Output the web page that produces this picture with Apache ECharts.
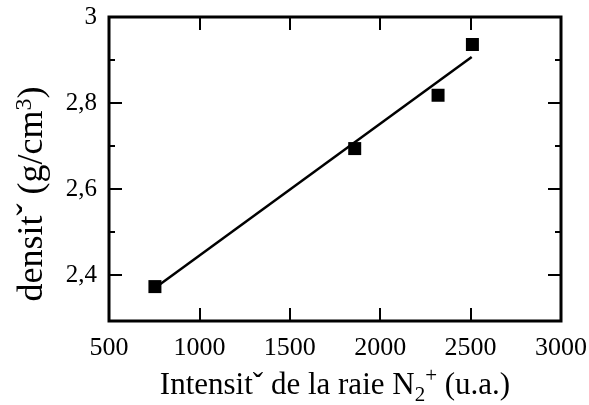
<!DOCTYPE html>
<html>
<head>
<meta charset="utf-8">
<script src="https://cdn.jsdelivr.net/npm/echarts@6/dist/echarts.min.js"></script>
<style>html,body{margin:0;padding:0;background:#fff;}#c{width:589px;height:405px;}</style>
</head>
<body>
<div id="c"></div>
<script>
// Data
var intensity = [754, 1859, 2320, 2510];
var density = [2.373, 2.694, 2.818, 2.936];
var fitX = [754, 2506];
var fitY = [2.370, 2.907];
var xTicks = [500, 1000, 1500, 2000, 2500, 3000];
var yMajorTicks = [2.4, 2.6, 2.8, 3.0];
var yMinorTicks = [2.5, 2.7, 2.9];

var FONT = 'Liberation Serif';
var chart = echarts.init(document.getElementById('c'), null, {renderer: 'canvas'});

function yAxisDef(pos, ticks, len, labels) {
  return {
    type: 'value', position: pos, min: 2.293, max: 3.0,
    axisLine: {show: false},
    splitLine: {show: false},
    axisTick: {show: true, inside: true, length: len, customValues: ticks,
      lineStyle: {color: '#000', width: 2}},
    axisLabel: labels ? {
      show: true, customValues: ticks, margin: 12,
      fontFamily: FONT, fontSize: 25, color: '#000',
      formatter: function (v) { return Math.abs(v - 3) < 1e-9 ? '3' : v.toFixed(1).replace('.', ','); }
    } : {show: false},
    name: labels ? '{t|densitˇ (g/cm}{sup|3}{t|)}' : '',
    nameLocation: 'middle', nameGap: 58, nameRotate: 90,
    nameTextStyle: {
      fontFamily: FONT, color: '#000', padding: [0, 50, 0, 0],
      rich: {
        t: {fontFamily: FONT, fontSize: 36, color: '#000', verticalAlign: 'bottom', lineHeight: 38},
        sup: {fontFamily: FONT, fontSize: 24, color: '#000', verticalAlign: 'top', lineHeight: 38}
      }
    }
  };
}

function xAxisDef(pos, labels) {
  return {
    type: 'value', position: pos, min: 500, max: 3000, interval: 500,
    axisLine: {show: false},
    splitLine: {show: false},
    axisTick: {show: true, inside: true, length: 13, lineStyle: {color: '#000', width: 2}},
    axisLabel: labels ? {show: true, margin: 14, fontFamily: FONT, fontSize: 26, color: '#000',
      formatter: function (v) { return String(v); }} : {show: false},
    name: labels ? '{t|Intensitˇ de la raie N}{sub|2}{sup|+}{t| (u.a.)}' : '',
    nameLocation: 'middle', nameGap: 40,
    nameTextStyle: {
      fontFamily: FONT, color: '#000',
      rich: {
        t: {fontFamily: FONT, fontSize: 31, color: '#000', verticalAlign: 'middle', lineHeight: 40},
        sub: {fontFamily: FONT, fontSize: 21, color: '#000', verticalAlign: 'bottom', lineHeight: 40},
        sup: {fontFamily: FONT, fontSize: 21, color: '#000', verticalAlign: 'top', lineHeight: 40}
      }
    }
  };
}

var option = {
  backgroundColor: '#fff',
  animation: false,
  grid: {left: 109, right: 28, top: 17, bottom: 84, containLabel: false, outerBoundsMode: 'none',
    show: true, borderColor: '#000', borderWidth: 3, backgroundColor: 'transparent'},
  xAxis: [xAxisDef('bottom', true), xAxisDef('top', false)],
  yAxis: [
    yAxisDef('left', yMajorTicks, 13, true),
    yAxisDef('left', yMinorTicks, 6, false),
    yAxisDef('right', yMajorTicks, 13, false),
    yAxisDef('right', yMinorTicks, 6, false)
  ],
  series: [
    {
      type: 'line', xAxisIndex: 0, yAxisIndex: 0,
      data: fitX.map(function (x, i) { return [x, fitY[i]]; }),
      showSymbol: false, symbol: 'none',
      lineStyle: {color: '#000', width: 2.5}, z: 2
    },
    {
      type: 'scatter', xAxisIndex: 0, yAxisIndex: 0,
      data: intensity.map(function (x, i) { return [x, density[i]]; }),
      symbol: 'rect', symbolSize: 13,
      itemStyle: {color: '#000', opacity: 1}, z: 3
    }
  ]
};
chart.setOption(option);
</script>
</body>
</html>
